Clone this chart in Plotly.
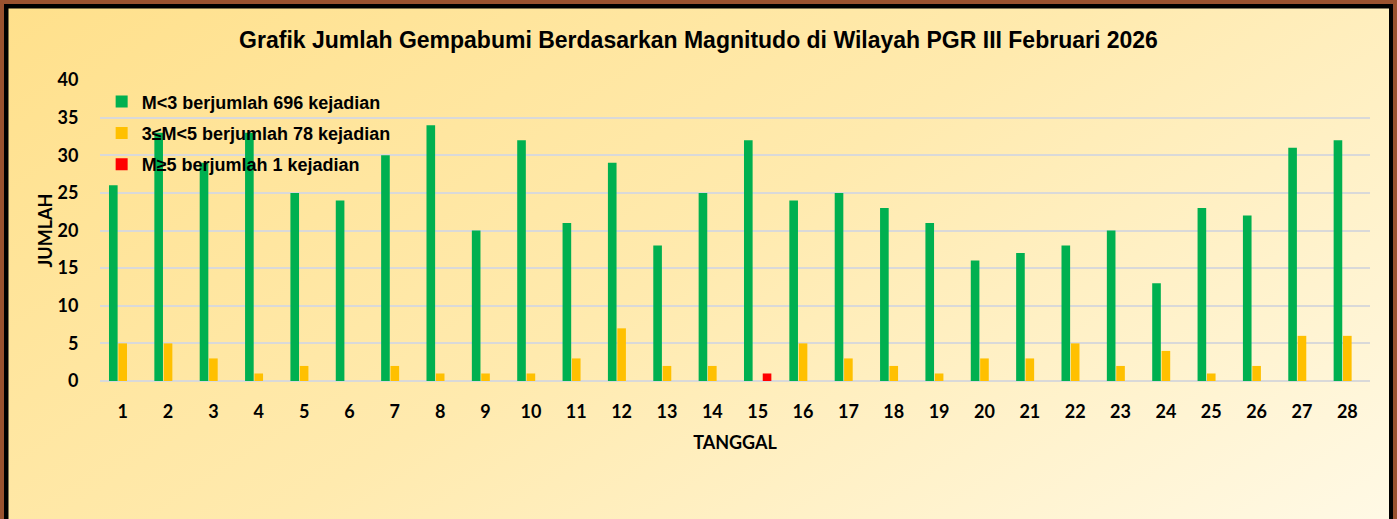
import base64
import plotly.graph_objects as go

# ---------------- data ----------------
tanggal = [str(d) for d in range(1, 29)]
m_kecil = [26, 33, 29, 33, 25, 24, 30, 34, 20, 32, 21, 29, 18, 25,
           32, 24, 25, 23, 21, 16, 17, 18, 20, 13, 23, 22, 31, 32]
m_sedang = [5, 5, 3, 1, 2, 0, 2, 1, 1, 1, 3, 7, 2, 2,
            0, 5, 3, 2, 1, 3, 3, 5, 2, 4, 1, 2, 6, 6]
m_besar = [0, 0, 0, 0, 0, 0, 0, 0, 0, 0, 0, 0, 0, 0,
           1, 0, 0, 0, 0, 0, 0, 0, 0, 0, 0, 0, 0, 0]
nama_seri = ["M<3 berjumlah 696 kejadian",
             "3≤M<5 berjumlah 78 kejadian",
             "M≥5 berjumlah 1 kejadian"]
warna_seri = ["#00B050", "#FFC000", "#FF0000"]
y_ticks = [0, 5, 10, 15, 20, 25, 30, 35, 40]
judul = "Grafik Jumlah Gempabumi Berdasarkan Magnitudo di Wilayah PGR III Februari 2026"

# ---------------- figure geometry ----------------
W, H = 1397, 519
ML, MR, MT, MB = 100, 27, 80, 138
PW, PH = W - ML - MR, H - MT - MB

# background: brown outer edge, black frame, diagonal cream gradient
svg = f'''<svg xmlns="http://www.w3.org/2000/svg" width="{W}" height="{H}" viewBox="0 0 {W} {H}" preserveAspectRatio="none">
<defs><linearGradient id="g" gradientUnits="userSpaceOnUse" x1="0" y1="0" x2="700" y2="1100">
<stop offset="0" stop-color="#FFE08B"/>
<stop offset="0.45" stop-color="#FFEAAE"/>
<stop offset="1" stop-color="#FFFCF0"/>
</linearGradient></defs>
<rect x="0" y="0" width="{W}" height="{H}" fill="#9A522F"/>
<rect x="4" y="4" width="1389" height="{H + 10}" fill="#000000"/>
<rect x="8.5" y="8.5" width="1380.5" height="{H + 10}" fill="url(#g)"/>
</svg>'''
bg_src = "data:image/svg+xml;base64," + base64.b64encode(svg.encode("utf-8")).decode("ascii")

fig = go.Figure()
for i, (nama, vals, warna) in enumerate(zip(nama_seri, [m_kecil, m_sedang, m_besar], warna_seri)):
    fig.add_trace(go.Bar(
        x=tanggal, y=vals, name=nama, legendgroup=f"g{i}",
        marker=dict(color=warna, line=dict(width=0)),
    ))

label_font = dict(family="Lato", size=18, color="#000000", weight="bold")

fig.update_layout(
    width=W, height=H,
    margin=dict(l=ML, r=MR, t=MT, b=MB, autoexpand=False),
    paper_bgcolor="#FFE9A8",
    plot_bgcolor="rgba(0,0,0,0)",
    barmode="group", bargap=0.38, bargroupgap=0.08,
    title=dict(text=judul, x=0.5, xref="container", xanchor="center",
               y=1 - 40 / H, yanchor="middle",
               font=dict(family="Liberation Sans", size=23, color="#000000", weight="bold")),
    showlegend=True,
    legend=dict(x=0.0013, xanchor="left", y=0.989, yanchor="top",
                bgcolor="rgba(0,0,0,0)", borderwidth=0,
                tracegroupgap=5, traceorder="grouped",
                font=dict(family="Liberation Sans", size=18, color="#000000", weight="bold")),
    images=[dict(source=bg_src, xref="paper", yref="paper",
                 x=-ML / PW, y=1 + MT / PH, sizex=W / PW, sizey=H / PH,
                 xanchor="left", yanchor="top", sizing="stretch", layer="below")],
    font=label_font,
)

fig.update_xaxes(
    type="category", showgrid=False, zeroline=False, showline=False,
    ticks="outside", ticklen=14, tickcolor="rgba(0,0,0,0)",
    tickfont=label_font,
    title=dict(text="TANGGAL", font=label_font, standoff=15),
)
fig.update_yaxes(
    range=[0, 40], tickvals=y_ticks, ticktext=[str(v) for v in y_ticks],
    showgrid=True, gridcolor="#D9D9D9", gridwidth=1.6,
    zeroline=True, zerolinecolor="#D9D9D9", zerolinewidth=1.6,
    showline=False, ticks="outside", ticklen=17, tickcolor="rgba(0,0,0,0)",
    tickfont=label_font,
    title=dict(text="JUMLAH", font=label_font, standoff=0),
)

fig.write_html("out.html", config={"displayModeBar": False},
               post_script="document.body.style.margin='0';document.body.style.overflow='hidden';")
